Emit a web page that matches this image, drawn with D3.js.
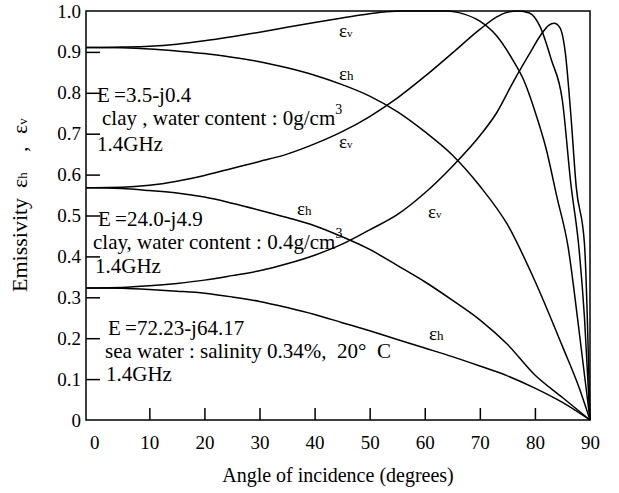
<!DOCTYPE html>
<html><head><meta charset="utf-8">
<script src="https://cdn.jsdelivr.net/npm/d3@7/dist/d3.min.js"></script>
<style>
html,body{margin:0;padding:0;background:#fff;}
svg text{font-family:"Liberation Serif","DejaVu Serif",serif;fill:#000;}
</style></head><body>
<svg id="c" width="619" height="493" font-family="Liberation Serif, DejaVu Serif, serif"></svg>
<script>
// ---- tick labels ----
const xTicks = [0, 10, 20, 30, 40, 50, 60, 70, 80, 90];
const yTicks = [0, 0.1, 0.2, 0.3, 0.4, 0.5, 0.6, 0.7, 0.8, 0.9, 1.0];

// ---- case 1: clay, 0 g/cm3 (E = 3.5 - j0.4) ----
const angEv1 = [0, 5, 10, 15, 20, 25, 30, 35, 40, 45, 50, 53, 56, 60, 64, 67, 70, 73, 76, 78, 80, 82, 84, 86, 88, 90];
const ev1    = [0.911, 0.912, 0.914, 0.919, 0.927, 0.937, 0.948, 0.960, 0.972, 0.983, 0.993, 0.998, 1.0, 1.0, 1.0, 0.993, 0.975, 0.94, 0.88, 0.83, 0.755, 0.665, 0.545, 0.425, 0.22, 0];
const angEh1 = [0, 5, 10, 15, 20, 25, 30, 35, 40, 45, 50, 55, 60, 65, 70, 75, 80, 85, 88, 90];
const eh1    = [0.911, 0.910, 0.907, 0.902, 0.896, 0.887, 0.876, 0.861, 0.843, 0.82, 0.792, 0.754, 0.705, 0.648, 0.572, 0.478, 0.34, 0.18, 0.08, 0];

// ---- case 2: clay, 0.4 g/cm3 (E = 24.0 - j4.9) ----
const angEv2 = [0, 5, 10, 15, 20, 25, 30, 35, 40, 45, 50, 55, 60, 65, 70, 73, 75, 77, 79, 81, 83, 85, 86.5, 88, 89, 90];
const ev2    = [0.568, 0.569, 0.574, 0.584, 0.598, 0.615, 0.632, 0.65, 0.675, 0.705, 0.742, 0.787, 0.84, 0.897, 0.955, 0.985, 0.997, 1.0, 0.995, 0.96, 0.88, 0.78, 0.58, 0.42, 0.25, 0];
const angEh2 = [0, 5, 10, 15, 20, 25, 30, 35, 40, 45, 50, 55, 60, 65, 70, 75, 80, 85, 90];
const eh2    = [0.568, 0.566, 0.561, 0.555, 0.545, 0.53, 0.513, 0.495, 0.475, 0.448, 0.417, 0.378, 0.338, 0.293, 0.245, 0.185, 0.11, 0.055, 0];

// ---- case 3: sea water (E = 72.23 - j64.17) ----
const angEv3 = [0, 5, 10, 15, 20, 25, 30, 35, 40, 45, 50, 55, 60, 65, 70, 73, 76, 79, 81, 82.5, 83.5, 84.5, 85.5, 86.5, 87.5, 89, 90];
const ev3    = [0.323, 0.324, 0.328, 0.334, 0.342, 0.353, 0.365, 0.382, 0.403, 0.43, 0.465, 0.502, 0.555, 0.62, 0.695, 0.75, 0.825, 0.895, 0.94, 0.965, 0.97, 0.96, 0.9, 0.75, 0.57, 0.43, 0];
const angEh3 = [0, 5, 10, 15, 20, 25, 30, 35, 40, 45, 50, 55, 60, 65, 70, 75, 80, 85, 90];
const eh3    = [0.323, 0.322, 0.319, 0.315, 0.31, 0.301, 0.29, 0.275, 0.258, 0.238, 0.218, 0.197, 0.176, 0.155, 0.132, 0.108, 0.078, 0.043, 0];

const series = [
  {a: angEv1, v: ev1}, {a: angEh1, v: eh1},
  {a: angEv2, v: ev2}, {a: angEh2, v: eh2},
  {a: angEv3, v: ev3}, {a: angEh3, v: eh3}
];

const svg = d3.select("#c");
const x = d3.scaleLinear().domain([-1.5, 90]).range([86, 590]);
const y = d3.scaleLinear().domain([0, 1]).range([420, 11]);

// frame
svg.append("rect")
  .attr("x", x(-1.5)).attr("y", y(1))
  .attr("width", x(90) - x(-1.5)).attr("height", y(0) - y(1))
  .attr("fill", "none").attr("stroke", "#000").attr("stroke-width", 1.5);

// y tick labels
const fmt = v => v === 0 ? "0" : d3.format(".1f")(v);
const yAx = svg.append("g").attr("transform", `translate(${x(-1.5)},0)`)
  .call(d3.axisLeft(y).tickValues(yTicks).tickSize(0).tickPadding(5).tickFormat(fmt));
yAx.attr("font-family", null);
yAx.select(".domain").remove();
yAx.selectAll("text").attr("font-size", 19);

// y tick marks (inward)
const yTm = svg.append("g").attr("transform", `translate(${x(-1.5)},0)`)
  .call(d3.axisRight(y).tickValues(yTicks.slice(1, -1)).tickSize(14).tickFormat(""));
yTm.select(".domain").remove();
yTm.selectAll("line").attr("stroke-width", 1.5);

// x tick labels
const xAx = svg.append("g").attr("transform", `translate(0,${y(0)})`)
  .call(d3.axisBottom(x).tickValues(xTicks).tickSize(0).tickPadding(16).tickFormat(d3.format("d")));
xAx.attr("font-family", null);
xAx.select(".domain").remove();
xAx.selectAll("text").attr("font-size", 19);

// x tick marks (inward)
const xTm = svg.append("g").attr("transform", `translate(0,${y(0)})`)
  .call(d3.axisTop(x).tickValues(xTicks.slice(1, -1)).tickSize(12).tickFormat(""));
xTm.select(".domain").remove();
xTm.selectAll("line").attr("stroke-width", 1.5);

// curves
const line = d3.line().x(d => x(d[0])).y(d => y(d[1])).curve(d3.curveMonotoneX);
series.forEach(s => {
  const pts = s.a.map((a, i) => [a, s.v[i]]);
  pts.unshift([x.domain()[0], s.v[0]]); // extend to the axis line
  svg.append("path").attr("d", line(pts))
    .attr("fill", "none").attr("stroke", "#000").attr("stroke-width", 1.5);
});

// axis titles
svg.append("text").attr("x", 338).attr("y", 482).attr("text-anchor", "middle")
  .attr("font-size", 20).text("Angle of incidence (degrees)");

const yl = svg.append("g").attr("transform", "translate(27,292) rotate(-90)");
yl.append("text").attr("x", 0).attr("y", 0).attr("font-size", 22).text("Emissivity");
const t1 = yl.append("text").attr("x", 104).attr("y", 0).attr("font-size", 22);
t1.append("tspan").text("ε"); t1.append("tspan").attr("font-size", 13).text("h");
yl.append("text").attr("x", 140).attr("y", 0).attr("font-size", 22).text(",");
const t2 = yl.append("text").attr("x", 158).attr("y", 0).attr("font-size", 22);
t2.append("tspan").text("ε"); t2.append("tspan").attr("font-size", 13).text("v");

// annotations
const notes = [
  {x: 97, y: 102, t: "E\u2009=3.5-j0.4"},
  {x: 102, y: 125, t: "clay , water content : 0g/cm", sup: true},
  {x: 97, y: 151, t: "1.4GHz"},
  {x: 98, y: 226, t: "E\u2009=24.0-j4.9"},
  {x: 93, y: 249, t: "clay, water content : 0.4g/cm", sup: true},
  {x: 95, y: 273, t: "1.4GHz"},
  {x: 108, y: 335, t: "E\u2009=72.23-j64.17"},
  {x: 105, y: 358, t: "sea water : salinity 0.34%,\u00A0\u00A020°\u00A0\u00A0C"},
  {x: 106, y: 381, t: "1.4GHz"}
];
notes.forEach(n => {
  const t = svg.append("text").attr("x", n.x).attr("y", n.y).attr("font-size", 21);
  t.append("tspan").text(n.t);
  if (n.sup) t.append("tspan").attr("dy", -11).attr("font-size", 14).text("3");
});

// curve labels
const clabels = [
  {x: 339, y: 37, s: "v"}, {x: 339, y: 80, s: "h"},
  {x: 339, y: 148, s: "v"}, {x: 297, y: 215, s: "h"},
  {x: 428, y: 218, s: "v"}, {x: 429, y: 340, s: "h"}
];
clabels.forEach(c => {
  const t = svg.append("text").attr("x", c.x).attr("y", c.y).attr("font-size", 19);
  t.append("tspan").text("ε");
  t.append("tspan").attr("font-size", c.s === "h" ? 13 : 11).text(c.s);
});
</script>
</body></html>
